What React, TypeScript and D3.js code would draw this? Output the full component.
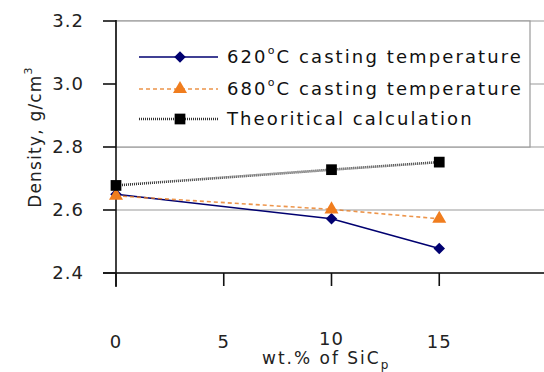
import React from 'react';
import * as d3 from 'd3';

const sicContent = [0, 10, 15];
const density620 = [2.65, 2.572, 2.478];
const density680 = [2.645, 2.602, 2.572];
const densityTheory = [2.678, 2.728, 2.752];
const yTicks = [2.4, 2.6, 2.8, 3.0, 3.2];
const xTicks = [0, 5, 10, 15];

const series = [
  { name: '620', label: ' casting temperature', values: density620, color: '#000070', dash: null, marker: 'diamond' },
  { name: '680', label: ' casting temperature', values: density680, color: '#e87a1e', dash: '4 3', marker: 'triangle' },
  { name: 'theory', label: 'Theoritical calculation', values: densityTheory, color: '#333', dash: '1 1', marker: 'square' },
];

const W = 544;
const H = 372;
const font = '"DejaVu Sans", Verdana, sans-serif';

const x = d3.scaleLinear().domain([0, 20]).range([116, 547]);
const y = d3.scaleLinear().domain([2.4, 3.2]).range([273, 21]);

const markerPath = (kind: string) => {
  if (kind === 'diamond') return d3.symbol(d3.symbolDiamond2, 85)();
  if (kind === 'triangle') return d3.symbol(d3.symbolTriangle, 85)();
  return d3.symbol(d3.symbolSquare, 115)();
};

const Marker = ({ kind, color, cx, cy }: any) => (
  <path d={markerPath(kind) || ''} transform={`translate(${cx},${cy})`} fill={kind === 'triangle' ? '#f07d1e' : kind === 'square' ? '#000' : color} />
);

export default function App() {
  const line = d3.line<number>().x((_, i) => x(sicContent[i])).y((d) => y(d));
  const legendY = [57, 89, 119];

  return (
    <svg width={W} height={H} style={{ position: 'absolute', left: 0, top: 0, background: '#fff' }} fontFamily={font}>
      {/* grid */}
      {yTicks.map((t) => (
        <line key={t} x1={x(0)} x2={W} y1={y(t)} y2={y(t)} stroke="#999" strokeWidth={1.2} />
      ))}

      {/* legend box */}
      <rect x={x(0)} y={y(3.2)} width={530 - x(0)} height={y(2.8) - y(3.2)} fill="#fff" stroke="#999" strokeWidth={1.2} />
      {series.map((s, i) => (
        <g key={s.name}>
          <line x1={139} x2={218} y1={legendY[i]} y2={legendY[i]} stroke={s.color} strokeWidth={s.name === 'theory' ? 2.6 : 1.6}
            strokeDasharray={s.dash || undefined} opacity={s.name === '680' ? 0.8 : 1} />
          <Marker kind={s.marker} color={s.color} cx={180} cy={legendY[i]} />
          <text x={227} y={legendY[i] + 6} fontSize={18} letterSpacing={2.1} fill="#111">
            {s.name === 'theory' ? s.label : (
              <>
                {s.name}
                <tspan fontSize={11} dy={-9}>o</tspan>
                <tspan dy={9}>C{s.label}</tspan>
              </>
            )}
          </text>
        </g>
      ))}

      {/* axes */}
      <line x1={x(0)} x2={x(0)} y1={y(3.2) - 1} y2={y(2.4) + 14} stroke="#111" strokeWidth={1.6} />
      <line x1={x(0) - 13} x2={W} y1={y(2.4)} y2={y(2.4)} stroke="#111" strokeWidth={1.6} />
      {yTicks.map((t) => (
        <g key={t}>
          <line x1={x(0) - 13} x2={x(0)} y1={y(t)} y2={y(t)} stroke="#111" strokeWidth={1.6} />
          <text x={84} y={y(t) + 6} textAnchor="end" fontSize={18} letterSpacing={1} fill="#222">{t.toFixed(1)}</text>
        </g>
      ))}
      {xTicks.map((t) => (
        <g key={t}>
          <line x1={x(t)} x2={x(t)} y1={y(2.4)} y2={y(2.4) + 13} stroke="#111" strokeWidth={1.6} />
          <text x={x(t)} y={t === 10 ? 345 : 348} textAnchor="middle" fontSize={18} letterSpacing={1} fill="#222">{t}</text>
        </g>
      ))}

      {/* series */}
      {series.map((s) => (
        <g key={s.name}>
          <path d={line(s.values) || ''} fill="none" stroke={s.color} strokeWidth={s.name === 'theory' ? 2.6 : 1.6}
            strokeDasharray={s.dash || undefined} opacity={s.name === '680' ? 0.8 : 1} />
          {s.values.map((v, i) => (
            <Marker key={i} kind={s.marker} color={s.color} cx={x(sicContent[i])} cy={y(v)} />
          ))}
        </g>
      ))}

      {/* axis titles */}
      <text transform="translate(41,137) rotate(-90)" textAnchor="middle" fontSize={17} letterSpacing={1.2} fill="#222">
        Density, g/cm<tspan fontSize={11} dy={-9}>3</tspan>
      </text>
      <text x={262} y={364} fontSize={17} letterSpacing={2} fill="#222">
        wt.% of SiC<tspan fontSize={12} dy={5}>p</tspan>
      </text>
    </svg>
  );
}
